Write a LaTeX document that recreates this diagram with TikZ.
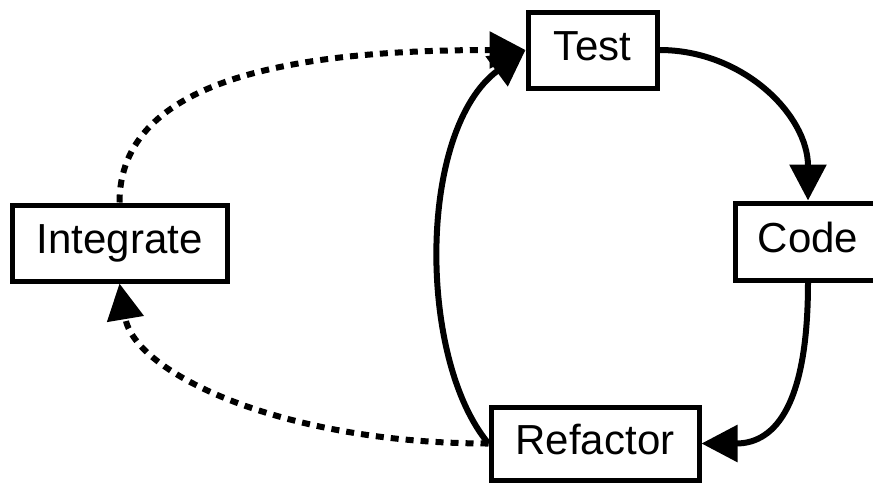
\documentclass[tikz,border=0pt]{standalone}
\usepackage{fontspec}
\setmainfont{Liberation Sans}
\usetikzlibrary{arrows.meta}

\tikzset{
  stagebox/.style={draw=black, line width=5pt, fill=white, inner sep=0pt,
    font=\fontsize{42}{50}\selectfont, text height=30.5pt, text depth=9pt},
  flow/.style={line width=6pt, -{Triangle[length=36pt,width=36pt]}},
  outerflow/.style={flow, dash pattern=on 8pt off 7pt}
}

\begin{document}
\begin{tikzpicture}[x=1pt, y=-1pt]
  \useasboundingbox (0,0) rectangle (873,483);

  % the four stages of the cycle
  \node[stagebox, minimum width=129pt, minimum height=76pt] (T) at (592.5,50) {Test};
  \node[stagebox, minimum width=146pt, minimum height=77pt] (C) at (808,241.5) {Code};
  \node[stagebox, minimum width=208pt, minimum height=73pt] (R) at (595,443.5) {Refactor};
  \node[stagebox, minimum width=215pt, minimum height=76pt] (I) at (119.5,243) {Integrate};

  % inner loop: test, code, refactor
  \draw[flow] (T.east) .. controls +(84,0) and +(0,-85) .. (C.north);
  \draw[flow] (C.south) .. controls +(0,120) and +(75,0) .. (R.east);
  \draw[flow] (R.west) .. controls +(-71,-85) and +(-108,80) .. (T.west);

  % outer loop through integration
  \draw[outerflow] (R.west) .. controls +(-205,0) and +(15,90) .. (I.south);
  \draw[outerflow] (I.north) .. controls +(0,-125) and +(-228,0) .. (T.west);
\end{tikzpicture}
\end{document}
